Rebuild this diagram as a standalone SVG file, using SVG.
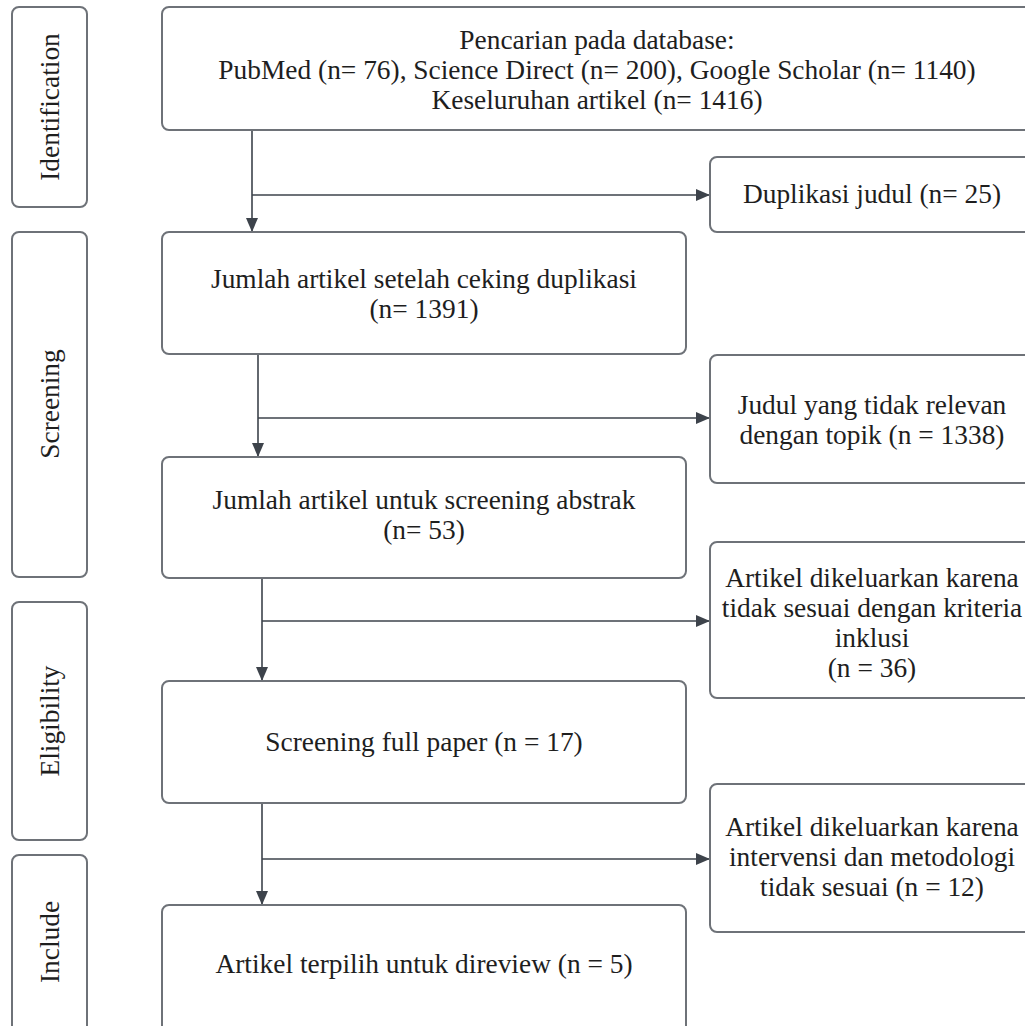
<svg xmlns="http://www.w3.org/2000/svg" width="1025" height="1026" viewBox="0 0 1025 1026">
<style>
  .box{fill:#ffffff;stroke:#6e7278;stroke-width:2}
  .t{font-family:"Liberation Serif","Times New Roman",serif;font-size:27.4px;fill:#1e1e1e;text-anchor:middle;dominant-baseline:central}
  .c{fill:none;stroke:#3d434b;stroke-width:1.6}
</style>
<defs>
  <marker id="ah" viewBox="0 0 14 12" refX="14" refY="6" markerWidth="14" markerHeight="12" markerUnits="userSpaceOnUse" orient="auto">
    <path d="M0,0 L14,6 L0,12 Z" fill="#3d434b"/>
  </marker>
</defs>
<rect width="1025" height="1026" fill="#ffffff"/>

<g id="phase-identification">
  <rect class="box" x="12" y="7" width="75" height="200" rx="7"/>
  <text class="t" transform="translate(50,107) rotate(-90)">Identification</text>
</g>
<g id="phase-screening">
  <rect class="box" x="12" y="232" width="75" height="345" rx="7"/>
  <text class="t" transform="translate(50,404) rotate(-90)">Screening</text>
</g>
<g id="phase-eligibility">
  <rect class="box" x="12" y="602" width="75" height="238" rx="7"/>
  <text class="t" transform="translate(50,721) rotate(-90)">Eligibility</text>
</g>
<g id="phase-include">
  <rect class="box" x="12" y="855" width="75" height="180" rx="7"/>
  <text class="t" transform="translate(50,942) rotate(-90)">Include</text>
</g>

<g id="connectors">
  <path class="c" d="M252,130 V232" marker-end="url(#ah)"/>
  <path class="c" d="M252,195 H710" marker-end="url(#ah)"/>
  <path class="c" d="M258,354 V457" marker-end="url(#ah)"/>
  <path class="c" d="M258,418 H710" marker-end="url(#ah)"/>
  <path class="c" d="M262,578 V681" marker-end="url(#ah)"/>
  <path class="c" d="M262,621 H710" marker-end="url(#ah)"/>
  <path class="c" d="M262,803 V905" marker-end="url(#ah)"/>
  <path class="c" d="M262,859 H710" marker-end="url(#ah)"/>
</g>

<g id="search">
  <rect class="box" x="162" y="7" width="872" height="123" rx="7"/>
  <text class="t" x="597" y="40">Pencarian pada database:</text>
  <text class="t" x="597" y="70">PubMed (n= 76), Science Direct (n= 200), Google Scholar (n= 1140)</text>
  <text class="t" x="597" y="100">Keseluruhan artikel (n= 1416)</text>
</g>
<g id="after-dedup">
  <rect class="box" x="162" y="232" width="524" height="122" rx="7"/>
  <text class="t" x="424" y="279">Jumlah artikel setelah ceking duplikasi</text>
  <text class="t" x="424" y="309">(n= 1391)</text>
</g>
<g id="abstract-screening">
  <rect class="box" x="162" y="457" width="524" height="121" rx="7"/>
  <text class="t" x="424" y="500">Jumlah artikel untuk screening abstrak</text>
  <text class="t" x="424" y="530">(n= 53)</text>
</g>
<g id="full-paper">
  <rect class="box" x="162" y="681" width="524" height="122" rx="7"/>
  <text class="t" x="424" y="742">Screening full paper (n = 17)</text>
</g>
<g id="selected">
  <rect class="box" x="162" y="905" width="524" height="130" rx="7"/>
  <text class="t" x="424" y="964">Artikel terpilih untuk direview (n = 5)</text>
</g>

<g id="duplicates">
  <rect class="box" x="710" y="157" width="324" height="75" rx="7"/>
  <text class="t" x="872" y="194">Duplikasi judul (n= 25)</text>
</g>
<g id="irrelevant">
  <rect class="box" x="710" y="355" width="324" height="128" rx="7"/>
  <text class="t" x="872" y="405">Judul yang tidak relevan</text>
  <text class="t" x="872" y="435">dengan topik (n = 1338)</text>
</g>
<g id="excluded-criteria">
  <rect class="box" x="710" y="542" width="324" height="156" rx="7"/>
  <text class="t" x="872" y="578">Artikel dikeluarkan karena</text>
  <text class="t" x="872" y="608">tidak sesuai dengan kriteria</text>
  <text class="t" x="872" y="638">inklusi</text>
  <text class="t" x="872" y="668">(n = 36)</text>
</g>
<g id="excluded-method">
  <rect class="box" x="710" y="784" width="324" height="148" rx="7"/>
  <text class="t" x="872" y="827">Artikel dikeluarkan karena</text>
  <text class="t" x="872" y="857">intervensi dan metodologi</text>
  <text class="t" x="872" y="887">tidak sesuai (n = 12)</text>
</g>
</svg>
